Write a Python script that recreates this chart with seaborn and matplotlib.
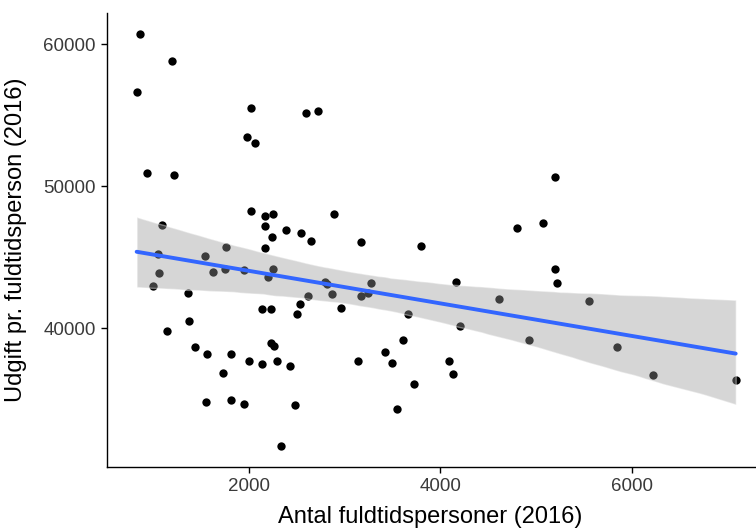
import numpy as np
import pandas as pd
import matplotlib
matplotlib.use("Agg")
import matplotlib.pyplot as plt
import seaborn as sns

# Data
antal = [867, 1201, 832, 2028, 2602, 2730, 1986, 2063, 940, 1225,
         2021, 2171, 2250, 1097, 1051, 1061, 998, 1152, 1371, 1374,
         1437, 1562, 1559, 1729, 1816, 1812, 1952, 2007, 2143, 2292,
         2435, 2490, 2334, 1545, 1629, 1767, 1757, 1955, 2171, 2240,
         2171, 2393, 2543, 2654, 2250, 2202, 2620, 2532, 2508, 2143,
         2234, 2230, 2265, 2894, 3173, 3802, 4806, 2793, 2818, 2873,
         2970, 3173, 3242, 3273, 3663, 4170, 4206, 4616, 3614, 3423,
         3502, 3145, 4094, 4139, 3729, 3551, 5203, 5075, 5200, 5221,
         5551, 4929, 5847, 6222, 7085]
udgift = [60725, 58845, 56641, 55535, 55141, 55324, 53472, 53070, 50915, 50775,
          48261, 47908, 48028, 47296, 45211, 43894, 43000, 39810, 42507, 40514,
          38683, 38211, 34831, 36831, 38211, 34972, 34669, 37676, 37507, 37676,
          37345, 34599, 31690, 45113, 43944, 45704, 44155, 44106, 47204, 46408,
          45634, 46944, 46711, 46148, 44176, 43592, 42296, 41690, 40986, 41380,
          41380, 38986, 38775, 48028, 46056, 45775, 47042, 43261, 43120, 42415,
          41451, 42296, 42507, 43169, 40986, 43239, 40183, 42063, 39176, 38331,
          37556, 37676, 37697, 36803, 36099, 34338, 50676, 47415, 44197, 43169,
          41944, 39176, 38683, 36690, 36359]
x_ticks = [2000, 4000, 6000]
y_ticks = [40000, 50000, 60000]
x_label = "Antal fuldtidspersoner (2016)"
y_label = "Udgift pr. fuldtidsperson (2016)"

sns.set_theme(style="ticks")
plt.rcParams["font.family"] = ["Liberation Sans", "DejaVu Sans"]

df = pd.DataFrame({"antal": antal, "udgift": udgift})

fig = plt.figure(figsize=(7.56, 5.29), dpi=100)
ax = fig.add_axes([0.1411, 0.1174, 1.0128 - 0.1411, 0.9747 - 0.1174])

sns.scatterplot(data=df, x="antal", y="udgift", ax=ax, color="black",
                s=36, linewidth=0, zorder=1)
sns.regplot(data=df, x="antal", y="udgift", ax=ax, scatter=False, ci=95,
            n_boot=2000, seed=1, color="#3366FF",
            line_kws={"linewidth": 2.8, "color": "#3366FF"})
band = ax.collections[-1]
band.set_facecolor("#999999")
band.set_alpha(0.4)

ax.set_xlim(519, 7398)
ax.set_ylim(30238, 62177)
ax.set_xticks(x_ticks)
ax.set_yticks(y_ticks)
ax.set_xticklabels([str(t) for t in x_ticks])
ax.set_yticklabels([str(t) for t in y_ticks])

for s in ["top", "right"]:
    ax.spines[s].set_visible(False)
for s in ["left", "bottom"]:
    ax.spines[s].set_color("black")
    ax.spines[s].set_linewidth(1.0)

ax.tick_params(axis="both", length=4.3, width=1.0, color="black",
               labelsize=13.5, labelcolor="#3a3a3a", pad=3.4)

ax.set_xlabel(x_label, fontsize=17, color="black")
ax.set_ylabel(y_label, fontsize=17, color="black")
ax.xaxis.set_label_coords((430 - 106.7) / 659.0, -0.086)
ax.yaxis.set_label_coords(-0.121, 0.5)

fig.savefig("out.png", dpi=100)
